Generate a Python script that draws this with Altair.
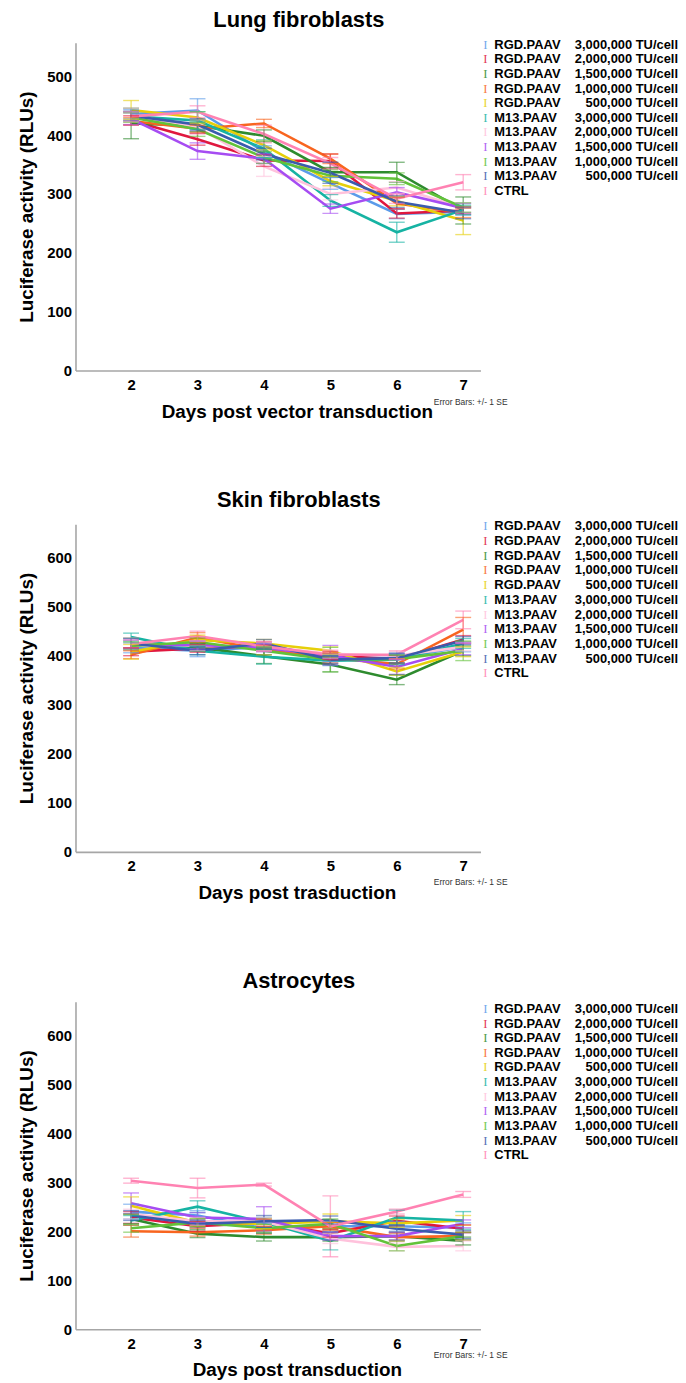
import altair as alt
import pandas as pd

FONT = "Liberation Sans"

DAYS = [2, 3, 4, 5, 6, 7]
VECTORS = ["RGD.PAAV"] * 5 + ["M13.PAAV"] * 5 + ["CTRL"]
DOSES = ["3,000,000 TU/cell", "2,000,000 TU/cell", "1,500,000 TU/cell",
         "1,000,000 TU/cell", "500,000 TU/cell"] * 2 + [""]
SERIES = [f"{v} {d}".strip() for v, d in zip(VECTORS, DOSES)]
COLORS = ["#5b9bea", "#e0173f", "#2e8b2e", "#f8651f", "#e6cf0a", "#16b3a3",
          "#ffc2dc", "#a64cf2", "#62c23a", "#3a5cad", "#ff82b2"]

# ---- Lung fibroblasts ----
LUNG_MEAN = [
    [436, 442, 372, 318, 266, 270],
    [425, 393, 357, 356, 267, 272],
    [420, 416, 399, 337, 337, 272],
    [424, 411, 420, 360, 284, 268],
    [443, 430, 383, 322, 288, 255],
    [432, 425, 377, 289, 235, 273],
    [434, 414, 347, 300, 311, 277],
    [428, 373, 360, 275, 303, 276],
    [430, 410, 362, 331, 326, 277],
    [433, 418, 368, 336, 287, 268],
    [432, 440, 402, 352, 292, 320],
]
LUNG_SE = [
    [8, 20, 10, 10, 8, 6],
    [8, 10, 10, 12, 8, 6],
    [26, 10, 10, 8, 17, 23],
    [6, 6, 7, 8, 10, 8],
    [16, 10, 8, 8, 8, 24],
    [8, 15, 15, 10, 17, 8],
    [12, 12, 17, 10, 10, 8],
    [10, 14, 8, 8, 8, 8],
    [8, 12, 10, 10, 10, 8],
    [8, 10, 10, 18, 10, 10],
    [8, 10, 15, 10, 8, 13],
]

# ---- Skin fibroblasts ----
SKIN_MEAN = [
    [416, 410, 418, 396, 395, 418],
    [408, 415, 420, 400, 393, 433],
    [426, 417, 399, 382, 351, 410],
    [402, 437, 412, 395, 383, 453],
    [408, 432, 425, 410, 368, 408],
    [438, 410, 398, 390, 392, 425],
    [426, 420, 418, 404, 400, 418],
    [422, 422, 416, 401, 377, 414],
    [420, 428, 410, 392, 393, 410],
    [425, 410, 425, 392, 395, 431],
    [424, 440, 419, 402, 402, 473],
]
SKIN_SE = [
    [10, 12, 8, 8, 10, 10],
    [8, 8, 8, 8, 8, 8],
    [10, 8, 15, 15, 10, 10],
    [8, 10, 10, 10, 10, 25],
    [15, 10, 8, 8, 8, 10],
    [8, 8, 15, 10, 10, 10],
    [10, 10, 8, 8, 8, 8],
    [10, 8, 8, 20, 15, 12],
    [8, 8, 8, 25, 8, 20],
    [10, 8, 8, 8, 10, 8],
    [8, 10, 10, 8, 8, 18],
]

# ---- Astrocytes ----
ASTRO_MEAN = [
    [240, 232, 206, 210, 210, 207],
    [228, 210, 217, 196, 221, 205],
    [225, 195, 188, 188, 190, 180],
    [200, 198, 202, 210, 188, 190],
    [252, 217, 215, 220, 216, 222],
    [222, 250, 218, 180, 228, 222],
    [235, 220, 220, 185, 168, 170],
    [257, 228, 225, 190, 190, 215],
    [206, 218, 206, 215, 170, 190],
    [232, 215, 220, 223, 205, 193],
    [303, 288, 295, 210, 240, 275],
]
ASTRO_SE = [
    [15, 10, 10, 10, 10, 10],
    [12, 10, 8, 8, 10, 8],
    [10, 8, 8, 8, 8, 8],
    [12, 8, 8, 8, 8, 8],
    [18, 8, 10, 15, 8, 10],
    [10, 12, 10, 18, 15, 18],
    [10, 8, 8, 10, 8, 10],
    [21, 10, 25, 8, 8, 8],
    [8, 8, 8, 10, 10, 8],
    [10, 8, 12, 8, 8, 8],
    [5, 20, 3, 62, 5, 6],
]

PANELS = [
    dict(title="Lung fibroblasts", xtitle="Days post vector transduction",
         ymax=557, yticks=[0, 100, 200, 300, 400, 500],
         mean=LUNG_MEAN, se=LUNG_SE, leg=(-5.3, 156.4), err_dy=31.4, toff=7),
    dict(title="Skin fibroblasts", xtitle="Days post trasduction",
         ymax=668, yticks=[0, 100, 200, 300, 400, 500, 600],
         mean=SKIN_MEAN, se=SKIN_SE, leg=(-5.3, 157.7), err_dy=30.5, toff=9),
    dict(title="Astrocytes", xtitle="Days post transduction",
         ymax=668, yticks=[0, 100, 200, 300, 400, 500, 600],
         mean=ASTRO_MEAN, se=ASTRO_SE, leg=(0, 162), err_dy=25.5, toff=9),
]

W, H = 408, 330

color = alt.Color("series:N", scale=alt.Scale(domain=SERIES, range=COLORS), legend=None)


def make_panel(p):
    rows = []
    for s, ms, es in zip(SERIES, p["mean"], p["se"]):
        for d, m, e in zip(DAYS, ms, es):
            rows.append({"series": s, "day": d, "mean": m, "lo": m - e, "hi": m + e})
    df = pd.DataFrame(rows)

    xenc = alt.X("day:Q", scale=alt.Scale(domain=[1.163, 7.26], nice=False, zero=False),
                 axis=alt.Axis(values=DAYS, title=p["xtitle"], titleX=223,
                               labelPadding=7, titlePadding=10, format="d"))
    yscale = alt.Scale(domain=[0, p["ymax"]], nice=False)
    yaxis = alt.Axis(values=p["yticks"], title="Luciferase activity (RLUs)",
                     labelPadding=4, titlePadding=10)

    base = alt.Chart(df)
    lines = base.mark_line(strokeWidth=2.6).encode(
        x=xenc, y=alt.Y("mean:Q", scale=yscale, axis=yaxis), color=color)
    rules = base.mark_rule(strokeWidth=1.4, opacity=0.6).encode(
        x=xenc, y=alt.Y("lo:Q", scale=yscale, axis=yaxis), y2="hi:Q", color=color)
    tlo = base.mark_tick(orient="horizontal", size=16, thickness=1.4, opacity=0.6).encode(
        x=xenc, y=alt.Y("lo:Q", scale=yscale, axis=yaxis), color=color)
    thi = base.mark_tick(orient="horizontal", size=16, thickness=1.4, opacity=0.6).encode(
        x=xenc, y=alt.Y("hi:Q", scale=yscale, axis=yaxis), color=color)
    note = alt.Chart(pd.DataFrame({"t": ["Error Bars: +/- 1 SE"]})).mark_text(
        align="left", baseline="middle", fontSize=8.5, font=FONT, color="#333333"
    ).encode(text="t:N", x=alt.value(361), y=alt.value(H + p["err_dy"]))

    main = alt.layer(lines, rules, tlo, thi, note)

    ldf = pd.DataFrame({"series": SERIES, "vector": VECTORS, "dose": DOSES})
    lbase = alt.Chart(ldf)
    ly = alt.Y("series:N", scale=alt.Scale(type="point", domain=SERIES, range=list(p["leg"])),
               axis=None)
    glyph = lbase.mark_text(text="I", font="Liberation Serif", fontSize=13, opacity=0.85,
                            baseline="middle", align="center").encode(
        x=alt.value(413), y=ly, color=color)
    names = lbase.mark_text(font=FONT, fontSize=13, fontWeight="bold", align="left",
                            baseline="middle", color="black").encode(
        x=alt.value(422), y=ly, text="vector:N")
    doses = lbase.mark_text(font=FONT, fontSize=13, fontWeight="bold", align="right",
                            baseline="middle", color="black").encode(
        x=alt.value(607), y=ly, text="dose:N")
    legend = alt.layer(glyph, names, doses)

    return alt.layer(main, legend).resolve_scale(y="independent").properties(
        width=W, height=H,
        title=alt.TitleParams(p["title"], font=FONT, fontSize=22, fontWeight="bold",
                              anchor="middle", dx=21, color="black", offset=p["toff"]),
    )


chart = alt.vconcat(*[make_panel(p) for p in PANELS], spacing=68).properties(
    padding={"left": 9, "top": -4, "right": 0, "bottom": 0}
).configure_view(stroke=None).configure_axis(
    domainColor="#a6a6a6", domainWidth=1.6, ticks=False, grid=False,
    labelFont=FONT, labelFontWeight="bold", labelFontSize=15, labelColor="black",
    titleFont=FONT, titleFontSize=19, titleFontWeight="bold", titleColor="black",
)

chart.save("out.html", embed_options={"renderer": "svg", "actions": False})
